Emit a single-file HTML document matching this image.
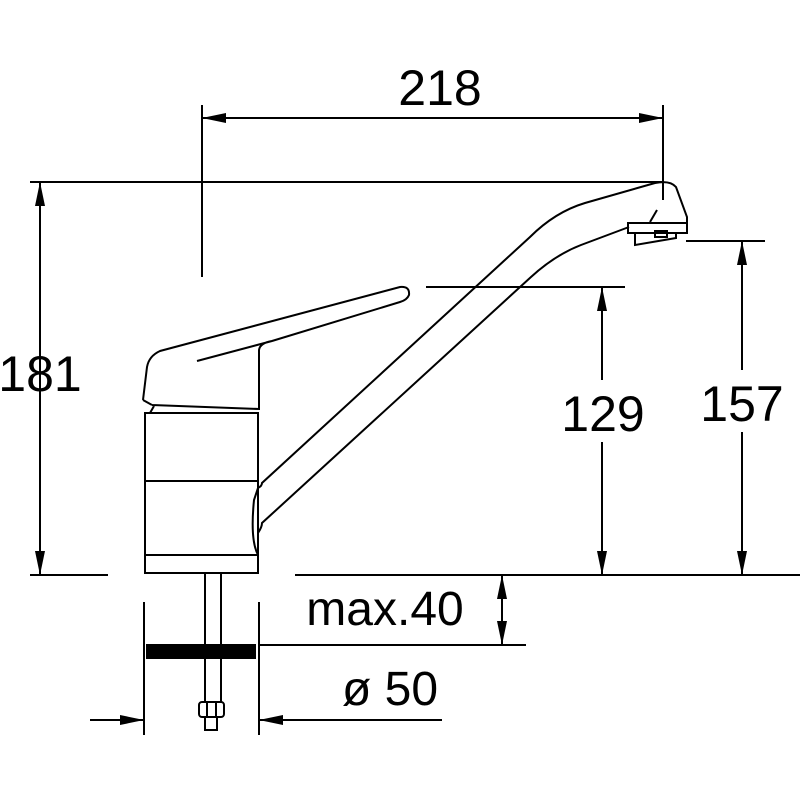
<!DOCTYPE html>
<html><head><style>body{margin:0;background:#fff}svg{display:block}</style></head><body>
<svg width="800" height="800" viewBox="0 0 800 800" xmlns="http://www.w3.org/2000/svg">
<defs>
<marker id="a" viewBox="0 0 24 10" refX="24" refY="5" markerWidth="24" markerHeight="10" markerUnits="userSpaceOnUse" orient="auto-start-reverse"><path d="M0,0 L24,5 L0,10 z" fill="#000"/></marker>
</defs>
<g stroke="#000" stroke-width="2" fill="none">
<line x1="30" y1="182" x2="663" y2="182"/>
<line x1="202" y1="105" x2="202" y2="277"/>
<line x1="663" y1="105" x2="663" y2="200"/>
<line x1="30" y1="575" x2="108" y2="575"/>
<line x1="295" y1="575" x2="800" y2="575"/>
<line x1="426" y1="287" x2="625" y2="287"/>
<line x1="686" y1="241" x2="765" y2="241"/>
<line x1="144" y1="602" x2="144" y2="735"/>
<line x1="259" y1="602" x2="259" y2="735"/>
<line x1="259" y1="645" x2="526" y2="645"/>
<line x1="202" y1="118" x2="663" y2="118" marker-start="url(#a)" marker-end="url(#a)"/>
<line x1="40" y1="182" x2="40" y2="575" marker-start="url(#a)" marker-end="url(#a)"/>
<line x1="602" y1="287" x2="602" y2="380" marker-start="url(#a)"/>
<line x1="602" y1="442" x2="602" y2="575" marker-end="url(#a)"/>
<line x1="742" y1="241" x2="742" y2="370" marker-start="url(#a)"/>
<line x1="742" y1="432" x2="742" y2="575" marker-end="url(#a)"/>
<line x1="502" y1="575" x2="502" y2="645" marker-start="url(#a)" marker-end="url(#a)"/>
<line x1="90" y1="720" x2="144" y2="720" marker-end="url(#a)"/>
<line x1="442" y1="720" x2="259" y2="720" marker-end="url(#a)"/>
<rect x="145" y="413" width="113" height="160"/>
<line x1="145" y1="481" x2="258" y2="481"/>
<line x1="145" y1="555" x2="258" y2="555"/>
<path d="M152,405 L259,409 L259,350 Q260,343 272,341 M143,400 L147,367 Q149,356 160,351 L400,287 Q410,286 409,295 Q407,300 400,302 L272,341 M197,361 L272,341 M143,400 L152,405 M150,413 L154,406"/>
<path d="M258,488 Q262,486 262,483 L530,237 Q555,212 585,203 L655,183 Q670,180 676,187 L687,217 L687,233"/>
<path d="M258,533 Q262,527 262,523 L531,277 Q555,255 581,245 L629,227"/>
<path d="M258,555 Q250,540 254,500 L258,488"/>
<rect x="628" y="223" width="59" height="10"/>
<path d="M635,233 L635,245 L676,238 L676,233"/>
<rect x="655" y="231" width="12" height="6"/>
<line x1="657" y1="210" x2="650" y2="222"/>
<line x1="205" y1="573" x2="205" y2="702"/>
<line x1="221" y1="573" x2="221" y2="702"/>
<rect x="199" y="702" width="25" height="15" rx="3"/>
<line x1="207" y1="702" x2="207" y2="717"/><line x1="216" y1="702" x2="216" y2="717"/>
<rect x="205" y="717" width="12" height="13"/>
</g>
<rect x="146" y="644" width="110" height="15" fill="#000"/>
<g font-family="Liberation Sans, sans-serif" font-size="50" fill="#000" text-anchor="middle">
<text x="440" y="105">218</text>
<text x="40" y="391">181</text>
<text x="603" y="431">129</text>
<text x="742" y="421">157</text>
<text x="385" y="625" font-size="48">max.40</text>
<text x="390" y="705" font-size="48">ø 50</text>
</g>
</svg>
</body></html>
